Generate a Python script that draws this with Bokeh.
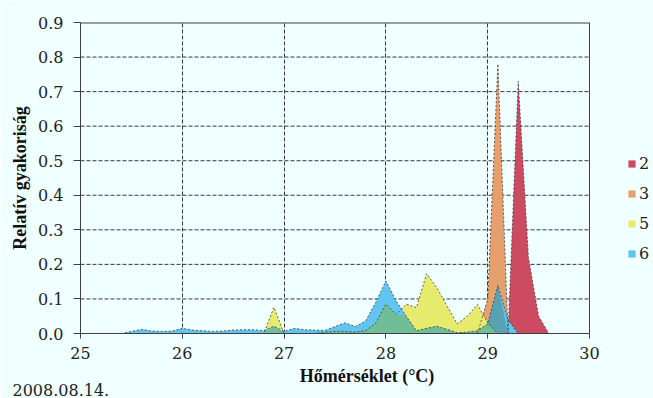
import numpy as np
from bokeh.plotting import figure
from bokeh.models import (ColumnDataSource, FixedTicker, PrintfTickFormatter,
                          Legend, LegendItem, Title, Range1d, Grid)
from bokeh.embed import file_html
from bokeh.resources import INLINE

# ---------------- data ----------------
t2 = [29.2, 29.3, 29.4, 29.5, 29.6]
s2 = [0.0, 0.73, 0.22, 0.05, 0.0]

t3 = [28.9, 29.0, 29.1, 29.2]
s3 = [0.0, 0.10, 0.78, 0.0]

t5 = [26.7, 26.8, 26.9, 27.0, 27.1, 27.2, 27.3, 27.4, 27.5, 27.6, 27.7, 27.8,
      27.9, 28.0, 28.1, 28.2, 28.3, 28.4, 28.5, 28.6, 28.7, 28.8, 28.9, 29.0, 29.1]
s5 = [0.0, 0.0, 0.076, 0.0, 0.0, 0.0, 0.0, 0.004, 0.006, 0.006, 0.004, 0.008,
      0.03, 0.085, 0.055, 0.085, 0.075, 0.173, 0.133, 0.08, 0.028, 0.05, 0.084, 0.031, 0.0]

t6 = [25.4, 25.5, 25.6, 25.7, 25.8, 25.9, 26.0, 26.1, 26.2, 26.3, 26.4, 26.5,
      26.6, 26.7, 26.8, 26.9, 27.0, 27.1, 27.2, 27.3, 27.4, 27.5, 27.6, 27.7,
      27.8, 27.9, 28.0, 28.1, 28.2, 28.3, 28.4, 28.5, 28.6, 28.7, 28.8, 28.9,
      29.0, 29.1, 29.2, 29.3]
s6 = [0.0, 0.006, 0.012, 0.007, 0.006, 0.007, 0.015, 0.010, 0.008, 0.006, 0.007, 0.010,
      0.011, 0.011, 0.008, 0.021, 0.006, 0.015, 0.011, 0.010, 0.009, 0.020, 0.031, 0.020,
      0.036, 0.090, 0.152, 0.095, 0.050, 0.008, 0.015, 0.021, 0.012, 0.002, 0.004, 0.008,
      0.028, 0.139, 0.040, 0.0]

labels = ["2", "3", "5", "6"]
x_ticks = [25, 26, 27, 28, 29, 30]
y_ticks = [0.0, 0.1, 0.2, 0.3, 0.4, 0.5, 0.6, 0.7, 0.8, 0.9]
date_text = "2008.08.14."

colors = {"2": "#CD4B60", "3": "#E6A06E", "5": "#E6EB6E", "6": "#62C4F0"}
overlap_colors = {("5", "3"): "#E2C860", ("6", "3"): "#58A2B2",
                  ("6", "2"): "#4C7CC0", ("6", "5"): "#70BE98"}

series = {"2": (t2, s2), "3": (t3, s3), "5": (t5, s5), "6": (t6, s6)}

# common grid (tenths) so that overlaps can be derived from the data
all_t = sorted(set(np.round(np.concatenate([t2, t3, t5, t6]) * 10).astype(int)))
grid_i = np.arange(min(all_t), max(all_t) + 1)
grid = grid_i / 10.0


def on_grid(t, s):
    d = dict(zip(np.round(np.array(t) * 10).astype(int), s))
    return np.array([d.get(i, 0.0) for i in grid_i])


g = {k: on_grid(*v) for k, v in series.items()}

BG = "#F0FFFF"
SERIF_B = "Liberation Serif"
SERIF_R = "DejaVu Serif"

W, H = 653, 398
LEFT, TOP, BOTTOM = 80, 22, 65
PLOT_W = 509                      # pixel width of the 25..30 plot area
x0, x1 = x_ticks[0], x_ticks[-1]
x_end = x0 + (W - LEFT) * (x1 - x0) / PLOT_W   # frame extends to hold the legend

p = figure(width=W, height=H, output_backend="svg", toolbar_location=None,
           x_range=Range1d(x0, x_end), y_range=Range1d(y_ticks[0], y_ticks[-1]),
           min_border_left=LEFT, min_border_right=0, min_border_top=TOP,
           min_border_bottom=BOTTOM)
p.background_fill_color = BG
p.border_fill_color = BG
p.outline_line_color = None

# horizontal grid lines limited to the 25..30 plot area
inner_y = y_ticks[1:-1]
p.segment(x0=[x0] * len(inner_y), x1=[x1] * len(inner_y), y0=inner_y, y1=inner_y,
          line_color="#222222", line_dash="4 2", line_width=1, line_alpha=0.9)

renderers = {}
for k in labels:
    t, s = series[k]
    src = ColumnDataSource(dict(x=t, y=s))
    renderers[k] = p.varea(x="x", y1=0, y2="y", source=src,
                           fill_color=colors[k], fill_alpha=1.0)

for (a, b), col in overlap_colors.items():
    m = np.minimum(g[a], g[b])
    p.varea(x=grid, y1=0, y2=m, fill_color=col, fill_alpha=1.0)

for k in labels:
    t, s = series[k]
    p.line(t, s, line_color="#333333", line_width=0.9, line_dash="2 2", line_alpha=0.85)

# top border of the plot area
p.segment(x0=[x0], x1=[x1], y0=[y_ticks[-1]], y1=[y_ticks[-1]],
          line_color="#404040", line_width=2)

# vertical dashed grid
p.xgrid.ticker = FixedTicker(ticks=x_ticks)
p.xgrid.grid_line_color = "#222222"
p.xgrid.grid_line_dash = "4 2"
p.xgrid.grid_line_width = 1
p.xgrid.grid_line_alpha = 0.9
p.ygrid.visible = False

# solid right border of the plot area
p.add_layout(Grid(dimension=0, ticker=FixedTicker(ticks=[x1]),
                  grid_line_color="#404040", grid_line_width=1))

p.xaxis.ticker = FixedTicker(ticks=x_ticks)
p.yaxis.ticker = FixedTicker(ticks=y_ticks)
p.xaxis.bounds = (x0, x1)
p.xaxis.formatter = PrintfTickFormatter(format="%d")
p.yaxis.formatter = PrintfTickFormatter(format="%.1f")

for ax in (p.xaxis[0], p.yaxis[0]):
    ax.axis_line_color = "#404040"
    ax.major_tick_line_color = "#404040"
    ax.minor_tick_line_color = None
    ax.major_tick_in = 0
    ax.major_label_text_font = SERIF_R
    ax.major_label_text_font_size = "16px"
    ax.major_label_text_color = "#222222"
    ax.axis_label_text_font = SERIF_B
    ax.axis_label_text_font_style = "bold"
    ax.axis_label_text_color = "#111111"

p.xaxis.major_tick_out = 5
p.xaxis.major_label_standoff = 8
p.xaxis.axis_label = "Hőmérséklet (°C)"
p.xaxis.axis_label_text_font_size = "18px"
p.xaxis.axis_label_standoff = 4

p.yaxis.major_tick_out = 7
p.yaxis.major_label_standoff = 10
p.yaxis.axis_label = "Relatív gyakoriság"
p.yaxis.axis_label_text_font_size = "18px"
p.yaxis.axis_label_standoff = 5

legend = Legend(items=[LegendItem(label=k, renderers=[renderers[k]]) for k in labels],
                location=(547, 70), orientation="vertical")
legend.background_fill_alpha = 0
legend.border_line_color = None
legend.padding = 0
legend.margin = 0
legend.spacing = 10
legend.glyph_width = 9
legend.glyph_height = 9
legend.label_standoff = 3
legend.label_text_font = SERIF_R
legend.label_text_font_size = "16px"
legend.label_text_color = "#222222"
legend.label_height = 20
p.add_layout(legend, "center")

date = Title(text=date_text, align="left", vertical_align="bottom",
             offset=-68, standoff=-13, text_font=SERIF_R, text_font_size="16px",
             text_font_style="normal", text_color="#222222")
p.add_layout(date, "below")

open("out.html", "w").write(file_html(p, INLINE))
